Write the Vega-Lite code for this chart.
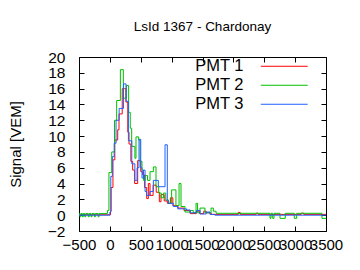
{
  "$schema": "https://vega.github.io/schema/vega-lite/v6.json",
  "width": 247,
  "height": 174,
  "autosize": {"type": "none"},
  "padding": {"left": 79, "top": 57, "right": 34, "bottom": 39},
  "background": "white",
  "title": {"text": "LsId 1367 - Chardonay", "fontSize": 13.5, "fontWeight": "normal", "font": "Liberation Sans", "color": "black", "offset": 17, "anchor": "middle"},
  "config": {"view": {"stroke": null}, "font": "Liberation Sans"},
  "data": {"values": [
    {"t": -500, "v": 0.05, "pmt": "PMT 1"}, {"t": 10, "v": 0.5, "pmt": "PMT 1"}, {"t": 20, "v": 3.5, "pmt": "PMT 1"}, {"t": 50, "v": 7.0, "pmt": "PMT 1"}, {"t": 80, "v": 9.5, "pmt": "PMT 1"}, {"t": 127, "v": 10.8, "pmt": "PMT 1"}, {"t": 148, "v": 12.8, "pmt": "PMT 1"}, {"t": 200, "v": 16.0, "pmt": "PMT 1"}, {"t": 234, "v": 16.0, "pmt": "PMT 1"}, {"t": 260, "v": 14.3, "pmt": "PMT 1"}, {"t": 290, "v": 10.5, "pmt": "PMT 1"}, {"t": 310, "v": 9.0, "pmt": "PMT 1"}, {"t": 340, "v": 6.8, "pmt": "PMT 1"}, {"t": 369, "v": 5.7, "pmt": "PMT 1"}, {"t": 401, "v": 4.0, "pmt": "PMT 1"}, {"t": 450, "v": 6.9, "pmt": "PMT 1"}, {"t": 500, "v": 5.5, "pmt": "PMT 1"}, {"t": 531, "v": 5.1, "pmt": "PMT 1"}, {"t": 563, "v": 3.5, "pmt": "PMT 1"}, {"t": 596, "v": 2.1, "pmt": "PMT 1"}, {"t": 623, "v": 4.0, "pmt": "PMT 1"}, {"t": 650, "v": 2.5, "pmt": "PMT 1"}, {"t": 700, "v": 3.8, "pmt": "PMT 1"}, {"t": 750, "v": 2.9, "pmt": "PMT 1"}, {"t": 801, "v": 1.7, "pmt": "PMT 1"}, {"t": 828, "v": 2.6, "pmt": "PMT 1"}, {"t": 880, "v": 1.8, "pmt": "PMT 1"}, {"t": 930, "v": 1.5, "pmt": "PMT 1"}, {"t": 980, "v": 2.2, "pmt": "PMT 1"}, {"t": 1020, "v": 1.2, "pmt": "PMT 1"}, {"t": 1100, "v": 0.9, "pmt": "PMT 1"}, {"t": 1200, "v": 0.6, "pmt": "PMT 1"}, {"t": 1300, "v": 0.2, "pmt": "PMT 1"}, {"t": 1400, "v": 0.5, "pmt": "PMT 1"}, {"t": 1450, "v": 0.2, "pmt": "PMT 1"}, {"t": 1520, "v": 0.5, "pmt": "PMT 1"}, {"t": 1560, "v": 0.3, "pmt": "PMT 1"}, {"t": 1640, "v": 0.1, "pmt": "PMT 1"}, {"t": 2080, "v": 0.35, "pmt": "PMT 1"}, {"t": 2110, "v": 0.1, "pmt": "PMT 1"}, {"t": 2370, "v": 0.25, "pmt": "PMT 1"}, {"t": 2400, "v": 0.1, "pmt": "PMT 1"}, {"t": 3100, "v": 0.25, "pmt": "PMT 1"}, {"t": 3140, "v": 0.1, "pmt": "PMT 1"}, {"t": 3500, "v": 0.1, "pmt": "PMT 1"},
    {"t": -500, "v": 0.2, "pmt": "PMT 2"}, {"t": -485, "v": -0.2, "pmt": "PMT 2"}, {"t": -470, "v": 0.2, "pmt": "PMT 2"}, {"t": -445, "v": -0.2, "pmt": "PMT 2"}, {"t": -430, "v": 0.2, "pmt": "PMT 2"}, {"t": -405, "v": -0.2, "pmt": "PMT 2"}, {"t": -390, "v": 0.2, "pmt": "PMT 2"}, {"t": -350, "v": -0.2, "pmt": "PMT 2"}, {"t": -335, "v": 0.2, "pmt": "PMT 2"}, {"t": -305, "v": -0.2, "pmt": "PMT 2"}, {"t": -290, "v": 0.2, "pmt": "PMT 2"}, {"t": -250, "v": -0.2, "pmt": "PMT 2"}, {"t": -235, "v": 0.2, "pmt": "PMT 2"}, {"t": -190, "v": -0.2, "pmt": "PMT 2"}, {"t": -175, "v": 0.2, "pmt": "PMT 2"}, {"t": -40, "v": 0.6, "pmt": "PMT 2"}, {"t": -15, "v": 5.4, "pmt": "PMT 2"}, {"t": 30, "v": 8.0, "pmt": "PMT 2"}, {"t": 75, "v": 12.0, "pmt": "PMT 2"}, {"t": 110, "v": 14.5, "pmt": "PMT 2"}, {"t": 170, "v": 18.4, "pmt": "PMT 2"}, {"t": 218, "v": 14.8, "pmt": "PMT 2"}, {"t": 267, "v": 16.4, "pmt": "PMT 2"}, {"t": 304, "v": 13.0, "pmt": "PMT 2"}, {"t": 330, "v": 11.0, "pmt": "PMT 2"}, {"t": 353, "v": 8.7, "pmt": "PMT 2"}, {"t": 405, "v": 7.2, "pmt": "PMT 2"}, {"t": 423, "v": 9.9, "pmt": "PMT 2"}, {"t": 466, "v": 9.5, "pmt": "PMT 2"}, {"t": 490, "v": 6.8, "pmt": "PMT 2"}, {"t": 520, "v": 5.7, "pmt": "PMT 2"}, {"t": 545, "v": 4.4, "pmt": "PMT 2"}, {"t": 570, "v": 5.0, "pmt": "PMT 2"}, {"t": 610, "v": 4.4, "pmt": "PMT 2"}, {"t": 650, "v": 5.5, "pmt": "PMT 2"}, {"t": 704, "v": 6.1, "pmt": "PMT 2"}, {"t": 747, "v": 3.6, "pmt": "PMT 2"}, {"t": 790, "v": 2.8, "pmt": "PMT 2"}, {"t": 830, "v": 2.2, "pmt": "PMT 2"}, {"t": 870, "v": 2.8, "pmt": "PMT 2"}, {"t": 905, "v": 1.9, "pmt": "PMT 2"}, {"t": 950, "v": 1.5, "pmt": "PMT 2"}, {"t": 1000, "v": 3.2, "pmt": "PMT 2"}, {"t": 1070, "v": 1.2, "pmt": "PMT 2"}, {"t": 1120, "v": 4.0, "pmt": "PMT 2"}, {"t": 1152, "v": 1.1, "pmt": "PMT 2"}, {"t": 1216, "v": 0.4, "pmt": "PMT 2"}, {"t": 1297, "v": 0.6, "pmt": "PMT 2"}, {"t": 1350, "v": 0.3, "pmt": "PMT 2"}, {"t": 1395, "v": 1.5, "pmt": "PMT 2"}, {"t": 1420, "v": 0.3, "pmt": "PMT 2"}, {"t": 1460, "v": 0.9, "pmt": "PMT 2"}, {"t": 1540, "v": 0.3, "pmt": "PMT 2"}, {"t": 1638, "v": 0.9, "pmt": "PMT 2"}, {"t": 1676, "v": 0.5, "pmt": "PMT 2"}, {"t": 1720, "v": 0.24, "pmt": "PMT 2"}, {"t": 2593, "v": -0.4, "pmt": "PMT 2"}, {"t": 2610, "v": 0.24, "pmt": "PMT 2"}, {"t": 2637, "v": -0.4, "pmt": "PMT 2"}, {"t": 2658, "v": 0.24, "pmt": "PMT 2"}, {"t": 2755, "v": -0.4, "pmt": "PMT 2"}, {"t": 2841, "v": 0.24, "pmt": "PMT 2"}, {"t": 2987, "v": -0.4, "pmt": "PMT 2"}, {"t": 3025, "v": 0.24, "pmt": "PMT 2"}, {"t": 3435, "v": -0.4, "pmt": "PMT 2"}, {"t": 3500, "v": -0.4, "pmt": "PMT 2"},
    {"t": -500, "v": 0.0, "pmt": "PMT 3"}, {"t": 0, "v": 0.4, "pmt": "PMT 3"}, {"t": 15, "v": 4.9, "pmt": "PMT 3"}, {"t": 40, "v": 7.4, "pmt": "PMT 3"}, {"t": 70, "v": 9.1, "pmt": "PMT 3"}, {"t": 100, "v": 12.0, "pmt": "PMT 3"}, {"t": 150, "v": 13.5, "pmt": "PMT 3"}, {"t": 220, "v": 16.6, "pmt": "PMT 3"}, {"t": 262, "v": 14.4, "pmt": "PMT 3"}, {"t": 300, "v": 9.4, "pmt": "PMT 3"}, {"t": 355, "v": 6.5, "pmt": "PMT 3"}, {"t": 405, "v": 4.4, "pmt": "PMT 3"}, {"t": 440, "v": 6.0, "pmt": "PMT 3"}, {"t": 472, "v": 9.6, "pmt": "PMT 3"}, {"t": 500, "v": 6.0, "pmt": "PMT 3"}, {"t": 520, "v": 4.7, "pmt": "PMT 3"}, {"t": 545, "v": 5.7, "pmt": "PMT 3"}, {"t": 570, "v": 3.0, "pmt": "PMT 3"}, {"t": 596, "v": 2.5, "pmt": "PMT 3"}, {"t": 650, "v": 3.0, "pmt": "PMT 3"}, {"t": 704, "v": 4.4, "pmt": "PMT 3"}, {"t": 785, "v": 3.6, "pmt": "PMT 3"}, {"t": 893, "v": 8.9, "pmt": "PMT 3"}, {"t": 930, "v": 1.9, "pmt": "PMT 3"}, {"t": 946, "v": 1.5, "pmt": "PMT 3"}, {"t": 1028, "v": 1.1, "pmt": "PMT 3"}, {"t": 1100, "v": 0.8, "pmt": "PMT 3"}, {"t": 1243, "v": 0.65, "pmt": "PMT 3"}, {"t": 1300, "v": 0.3, "pmt": "PMT 3"}, {"t": 1400, "v": 0.6, "pmt": "PMT 3"}, {"t": 1460, "v": 0.15, "pmt": "PMT 3"}, {"t": 1560, "v": 0.4, "pmt": "PMT 3"}, {"t": 1620, "v": 0.1, "pmt": "PMT 3"}, {"t": 1700, "v": 0.0, "pmt": "PMT 3"}, {"t": 3500, "v": 0.0, "pmt": "PMT 3"}
  ]},
  "layer": [
    {
      "mark": {"type": "line", "interpolate": "step-after", "strokeWidth": 1, "clip": true},
      "encoding": {
        "x": {"field": "t", "type": "quantitative", "scale": {"domain": [-500, 3500], "nice": false, "zero": false},
              "axis": {"orient": "bottom", "values": [-500, 0, 500, 1000, 1500, 2000, 2500, 3000, 3500], "format": "d", "title": null, "grid": false, "tickSize": -5, "tickColor": "black", "domainColor": "black", "labelColor": "black", "labelFontSize": 15, "labelPadding": 11, "labelOverlap": false, "labelFlush": false, "labelBound": false}},
        "y": {"field": "v", "type": "quantitative", "scale": {"domain": [-2, 20], "nice": false, "zero": false},
              "axis": {"orient": "left", "values": [-2, 0, 2, 4, 6, 8, 10, 12, 14, 16, 18, 20], "format": "d", "title": "Signal [VEM]", "titleFontSize": 15, "titleFontWeight": "normal", "titleColor": "black", "titleX": -64, "titleY": 87, "titleAngle": -90, "titleAlign": "center", "titleBaseline": "middle", "grid": false, "tickSize": -5, "tickColor": "black", "domainColor": "black", "labelColor": "black", "labelFontSize": 15.5, "labelPadding": 19, "labelOverlap": false, "labelFlush": false, "labelBound": false}},
        "color": {"field": "pmt", "type": "nominal", "scale": {"domain": ["PMT 1", "PMT 2", "PMT 3"], "range": ["#ff0000", "#00c000", "#2060ff"]},
                  "legend": {"orient": "none", "legendX": 197, "legendY": 1, "title": null, "padding": 0, "symbolType": "M-5,0H5", "symbolSize": 88, "symbolStrokeWidth": 1, "symbolFillColor": "transparent", "labelAlign": "right", "labelOffset": -49, "labelFontSize": 16.5, "labelColor": "black", "labelLimit": 0, "rowPadding": 2}}
      }
    },
    {
      "mark": {"type": "point", "opacity": 0},
      "encoding": {
        "x": {"field": "t", "type": "quantitative", "scale": {"domain": [-500, 3500], "nice": false, "zero": false},
              "axis": {"orient": "top", "values": [-500, 0, 500, 1000, 1500, 2000, 2500, 3000, 3500], "title": null, "labels": false, "grid": false, "tickSize": -5, "tickColor": "black", "domainColor": "black"}},
        "y": {"field": "v", "type": "quantitative", "scale": {"domain": [-2, 20], "nice": false, "zero": false},
              "axis": {"orient": "right", "values": [-2, 0, 2, 4, 6, 8, 10, 12, 14, 16, 18, 20], "title": null, "labels": false, "grid": false, "tickSize": -5, "tickColor": "black", "domainColor": "black"}}
      }
    }
  ],
  "resolve": {"axis": {"x": "independent", "y": "independent"}}
}
